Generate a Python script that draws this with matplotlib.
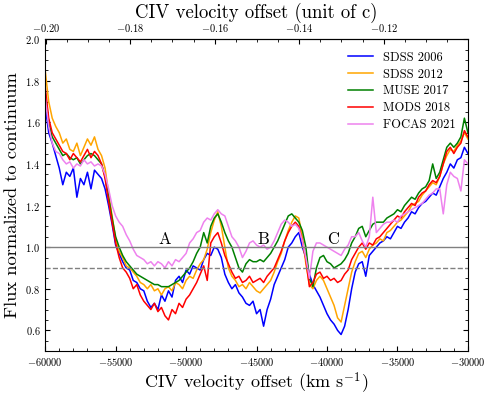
import numpy as np
import matplotlib
matplotlib.use("Agg")
import matplotlib.pyplot as plt
from matplotlib.ticker import MultipleLocator, AutoMinorLocator, FuncFormatter, FixedLocator

plt.rcParams["font.family"] = "serif"
plt.rcParams["font.serif"] = ["cmr10", "DejaVu Serif"]
plt.rcParams["mathtext.fontset"] = "cm"
plt.rcParams["axes.formatter.use_mathtext"] = True
plt.rcParams["axes.unicode_minus"] = True

C_KMS = 299792.458

# velocity grid, km/s (one row below = 2000 km/s)
velocity = np.arange(-60000, -29999, 250)

sdss_2006 = [
    1.68, 1.55, 1.50, 1.44, 1.38, 1.30, 1.36, 1.34,
    1.38, 1.24, 1.33, 1.30, 1.36, 1.28, 1.37, 1.35,
    1.33, 1.28, 1.20, 1.11, 1.01, 0.97, 0.93, 0.90,
    0.89, 0.84, 0.83, 0.80, 0.79, 0.74, 0.71, 0.73,
    0.70, 0.77, 0.74, 0.79, 0.76, 0.84, 0.86, 0.83,
    0.89, 0.87, 0.91, 0.90, 0.89, 0.94, 0.97, 0.96,
    1.00, 0.99, 0.95, 0.87, 0.83, 0.80, 0.82, 0.78,
    0.76, 0.73, 0.72, 0.74, 0.68, 0.70, 0.62, 0.70,
    0.75, 0.82, 0.86, 0.90, 0.94, 1.00, 1.02, 1.05,
    1.07, 1.00, 0.95, 0.87, 0.82, 0.79, 0.76, 0.72,
    0.68, 0.65, 0.63, 0.60, 0.58, 0.62, 0.70, 0.80,
    0.88, 0.92, 0.93, 0.86, 0.96, 0.98, 1.00, 1.02,
    1.03, 1.05, 1.04, 1.07, 1.10, 1.09, 1.12, 1.14,
    1.17, 1.16, 1.19, 1.21, 1.22, 1.24, 1.26, 1.25,
    1.29, 1.33, 1.36, 1.40, 1.38, 1.42, 1.43, 1.48,
    1.45,
]

sdss_2012 = [
    1.85, 1.70, 1.62, 1.58, 1.55, 1.50, 1.52, 1.47,
    1.46, 1.50, 1.44, 1.48, 1.52, 1.49, 1.53, 1.47,
    1.44, 1.38, 1.26, 1.15, 1.04, 0.98, 0.95, 0.91,
    0.90, 0.88, 0.86, 0.83, 0.82, 0.80, 0.82, 0.79,
    0.80, 0.77, 0.80, 0.81, 0.79, 0.83, 0.82, 0.80,
    0.84, 0.86, 0.85, 0.89, 0.92, 0.94, 0.99, 1.07,
    1.13, 1.17, 1.10, 1.00, 0.90, 0.86, 0.84, 0.81,
    0.82, 0.80, 0.83, 0.81, 0.79, 0.78, 0.80, 0.82,
    0.84, 0.88, 0.93, 0.97, 1.03, 1.08, 1.12, 1.15,
    1.14, 1.05, 0.92, 0.82, 0.80, 0.84, 0.86, 0.84,
    0.80, 0.76, 0.72, 0.66, 0.64, 0.72, 0.80, 0.88,
    0.93, 0.97, 0.98, 0.95, 0.99, 1.01, 1.02, 1.04,
    1.03, 1.07, 1.08, 1.10, 1.12, 1.13, 1.15, 1.17,
    1.20, 1.21, 1.22, 1.25, 1.27, 1.29, 1.31, 1.30,
    1.34, 1.40, 1.44, 1.47, 1.46, 1.49, 1.51, 1.55,
    1.52,
]

muse_2017 = [
    1.75, 1.60, 1.53, 1.50, 1.47, 1.44, 1.45, 1.43,
    1.42, 1.43, 1.40, 1.42, 1.44, 1.45, 1.44, 1.42,
    1.40, 1.34, 1.24, 1.14, 1.05, 1.00, 0.96, 0.93,
    0.91, 0.89, 0.87, 0.86, 0.85, 0.84, 0.83, 0.82,
    0.82, 0.81, 0.81, 0.81, 0.82, 0.83, 0.84, 0.86,
    0.88, 0.90, 0.93, 0.97, 1.00, 1.07, 1.02, 1.10,
    1.14, 1.16, 1.12, 1.07, 1.03, 1.00, 0.95, 0.90,
    0.88, 0.92, 0.94, 0.93, 0.93, 0.94, 0.93, 0.95,
    0.97, 1.00, 1.03, 1.07, 1.11, 1.15, 1.16, 1.14,
    1.12, 1.08, 1.00, 0.85, 0.81, 0.90, 0.95, 0.96,
    0.93, 0.92, 0.90, 0.91, 0.92, 0.94, 0.97, 1.02,
    1.05, 1.09, 1.10, 1.05, 1.08, 1.11, 1.12, 1.12,
    1.12, 1.14, 1.15, 1.16, 1.18, 1.17, 1.20, 1.22,
    1.24, 1.23, 1.26, 1.28, 1.29, 1.32, 1.40, 1.33,
    1.36, 1.42, 1.48, 1.50, 1.48, 1.50, 1.53, 1.62,
    1.55,
]

mods_2018 = [
    1.77, 1.62, 1.55, 1.52, 1.49, 1.46, 1.45, 1.42,
    1.45, 1.43, 1.41, 1.44, 1.47, 1.43, 1.46, 1.44,
    1.40, 1.33, 1.22, 1.12, 1.02, 0.95, 0.90, 0.88,
    0.85, 0.80, 0.82, 0.77, 0.74, 0.72, 0.70, 0.73,
    0.69, 0.71, 0.67, 0.65, 0.70, 0.68, 0.73, 0.71,
    0.75, 0.77, 0.80, 0.83, 0.87, 0.91, 0.84, 1.02,
    1.05, 1.07, 1.02, 0.96, 0.92, 0.88, 0.85, 0.86,
    0.83, 0.84, 0.86, 0.83, 0.84, 0.85, 0.83, 0.86,
    0.88, 0.90, 0.94, 0.98, 1.03, 1.07, 1.10, 1.12,
    1.10, 1.03, 0.94, 0.81, 0.83, 0.87, 0.88, 0.85,
    0.86, 0.84, 0.85, 0.83, 0.84, 0.87, 0.89, 0.94,
    0.97, 1.00, 1.02, 0.99, 1.02, 1.01, 1.04, 1.05,
    1.07, 1.09, 1.11, 1.13, 1.15, 1.14, 1.17, 1.19,
    1.21, 1.20, 1.24, 1.26, 1.27, 1.30, 1.32, 1.31,
    1.34, 1.40, 1.46, 1.48, 1.45, 1.48, 1.50, 1.56,
    1.53,
]

focas_2021 = [
    1.72, 1.58, 1.50, 1.46, 1.45, 1.42, 1.40, 1.41,
    1.38, 1.40, 1.39, 1.42, 1.40, 1.41, 1.39, 1.40,
    1.39, 1.35, 1.28, 1.20, 1.15, 1.12, 1.10, 1.06,
    1.03, 0.99, 0.96, 0.95, 0.94, 0.92, 0.93, 0.91,
    0.93, 0.92, 0.90, 0.93, 0.91, 0.94, 0.93, 0.95,
    0.97, 1.02, 1.04, 1.07, 1.08, 1.12, 1.14, 1.13,
    1.16, 1.18, 1.16, 1.15, 1.10, 1.05, 1.03, 1.00,
    0.95, 0.98, 1.02, 1.03, 1.01, 1.00, 1.01, 0.99,
    1.00, 1.03, 1.07, 1.11, 1.13, 1.12, 1.10, 1.11,
    1.09, 1.03, 0.95, 0.85, 0.98, 1.02, 1.02, 1.01,
    1.00, 0.99, 0.98, 0.97, 0.96, 0.99, 1.01, 1.05,
    1.05, 1.07, 1.03, 1.00, 1.05, 1.24, 1.07, 1.09,
    1.11, 1.12, 1.12, 1.13, 1.12, 1.15, 1.16, 1.17,
    1.18, 1.19, 1.20, 1.21, 1.23, 1.25, 1.26, 1.28,
    1.28, 1.16, 1.30, 1.36, 1.34, 1.33, 1.27, 1.42,
    1.40,
]

series = [
    ("SDSS 2006", sdss_2006, "blue"),
    ("SDSS 2012", sdss_2012, "orange"),
    ("MUSE 2017", muse_2017, "green"),
    ("MODS 2018", mods_2018, "red"),
    ("FOCAS 2021", focas_2021, "violet"),
]

labels = ["A", "B", "C"]
label_v = [-51500, -44500, -39600]

# top axis ticks in units of c
beta_major = [-0.20, -0.18, -0.16, -0.14, -0.12, -0.10]

fig = plt.figure(figsize=(4.91, 3.95), dpi=100)
ax = fig.add_axes([0.092, 0.111, 0.861, 0.790])

for name, flux, col in series:
    ax.plot(velocity, flux, color=col, lw=1.1, label=name)

ax.axhline(1.0, color="gray", lw=1.0)
ax.axhline(0.9, color="gray", lw=1.0, ls="--")

for lab, v in zip(labels, label_v):
    ax.text(v, 1.0, lab, fontsize=12, ha="center", va="bottom")

ax.set_xlim(-60000, -30000)
ax.set_ylim(0.5, 2.0)
ax.xaxis.set_major_locator(MultipleLocator(5000))
ax.xaxis.set_minor_locator(AutoMinorLocator(5))
ax.yaxis.set_major_locator(MultipleLocator(0.2))
ax.yaxis.set_minor_locator(AutoMinorLocator(4))
ax.xaxis.set_major_formatter(FuncFormatter(lambda x, p: f"${x:.0f}$"))
ax.yaxis.set_major_formatter(FuncFormatter(lambda x, p: f"${x:.1f}$"))
ax.tick_params(which="both", direction="in", top=False, right=True, labelsize=7.5)
ax.tick_params(which="major", length=3.5)
ax.tick_params(which="minor", length=2)

ax.set_xlabel("CIV velocity offset (km s$^{-1}$)", fontsize=13, labelpad=2)
ax.set_ylabel("Flux normalized to continuum", fontsize=13.3, labelpad=4)

sec = ax.secondary_xaxis("top", functions=(lambda v: v / C_KMS, lambda b: b * C_KMS))
sec.xaxis.set_major_locator(FixedLocator(beta_major))
sec.xaxis.set_minor_locator(FixedLocator(np.arange(-0.195, -0.1, 0.005)))
sec.xaxis.set_major_formatter(FuncFormatter(lambda x, p: f"${x:.2f}$"))
sec.tick_params(which="both", direction="in", labelsize=7.5)
sec.tick_params(which="major", length=3.5)
sec.tick_params(which="minor", length=2)
sec.set_xlabel("CIV velocity offset (unit of c)", fontsize=13.5, labelpad=3)

ax.legend(loc="upper right", frameon=False, fontsize=9, handlelength=2.0,
          labelspacing=0.38, borderaxespad=0.6)

fig.savefig("out.png", dpi=100)
